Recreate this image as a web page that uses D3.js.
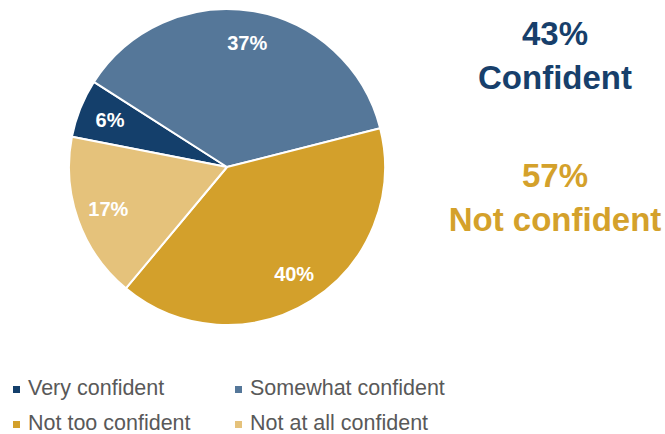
<!DOCTYPE html>
<html>
<head>
<meta charset="utf-8">
<script src="https://cdn.jsdelivr.net/npm/d3@7"></script>
<style>
  html, body { margin: 0; padding: 0; background: #ffffff; }
  svg { display: block; font-family: "Liberation Sans", Arial, Helvetica, sans-serif; }
</style>
</head>
<body>
<svg id="chart" width="665" height="434"></svg>
<script>
// Survey answers, in drawing order (clockwise)
const categories = ["Very confident", "Somewhat confident", "Not too confident", "Not at all confident"];
const shares = [6, 37, 40, 17];
const colors = ["#143f6b", "#557799", "#d3a02b", "#e5c27b"];

// Summary groups shown beside the pie
const summaryValues = ["43%", "57%"];
const summaryLabels = ["Confident", "Not confident"];
const summaryColors = ["#173f6b", "#d4a12b"];

// Legend layout: two rows of two
const legendOrder = [0, 1, 2, 3];

const svg = d3.select("#chart");
const cx = 227, cy = 167, radius = 158;

const pie = d3.pie()
  .sort(null)
  .value(d => d)
  .startAngle(-79 * Math.PI / 180)
  .endAngle(281 * Math.PI / 180);

const arc = d3.arc().innerRadius(0).outerRadius(radius);
const labelArc = d3.arc().innerRadius(126).outerRadius(126);

const g = svg.append("g").attr("transform", `translate(${cx},${cy})`);
const arcs = pie(shares);

g.selectAll("path.slice")
  .data(arcs)
  .join("path")
  .attr("class", "slice")
  .attr("d", arc)
  .attr("fill", (d, i) => colors[i])
  .attr("stroke", "#ffffff")
  .attr("stroke-width", 2)
  .attr("stroke-linejoin", "round");

g.selectAll("text.pct")
  .data(arcs)
  .join("text")
  .attr("class", "pct")
  .attr("transform", d => `translate(${labelArc.centroid(d)})`)
  .attr("text-anchor", "middle")
  .attr("dy", "0.36em")
  .attr("fill", "#ffffff")
  .attr("font-size", 20)
  .attr("font-weight", "bold")
  .text(d => d.data + "%");

// Summary block on the right
const summary = svg.append("g").attr("transform", "translate(555,0)");
const blockTop = [45, 187];
summaryValues.forEach((v, i) => {
  summary.append("text")
    .attr("x", 0).attr("y", blockTop[i])
    .attr("text-anchor", "middle")
    .attr("font-size", 33).attr("font-weight", "bold")
    .attr("fill", summaryColors[i])
    .text(v);
  summary.append("text")
    .attr("x", 0).attr("y", blockTop[i] + 44)
    .attr("text-anchor", "middle")
    .attr("font-size", 33).attr("font-weight", "bold")
    .attr("fill", summaryColors[i])
    .text(summaryLabels[i]);
});

// Legend
const legendX = [13, 235];
const legendY = [395, 430];
const legend = svg.append("g");
legendOrder.forEach((ci, k) => {
  const col = k % 2, row = Math.floor(k / 2);
  const item = legend.append("g")
    .attr("transform", `translate(${legendX[col]},${legendY[row]})`);
  item.append("rect")
    .attr("x", 0).attr("y", -9)
    .attr("width", 7).attr("height", 7)
    .attr("fill", colors[ci]);
  item.append("text")
    .attr("x", 15).attr("y", 0)
    .attr("font-size", 21.5)
    .attr("fill", "#595959")
    .text(categories[ci]);
});
</script>
</body>
</html>
